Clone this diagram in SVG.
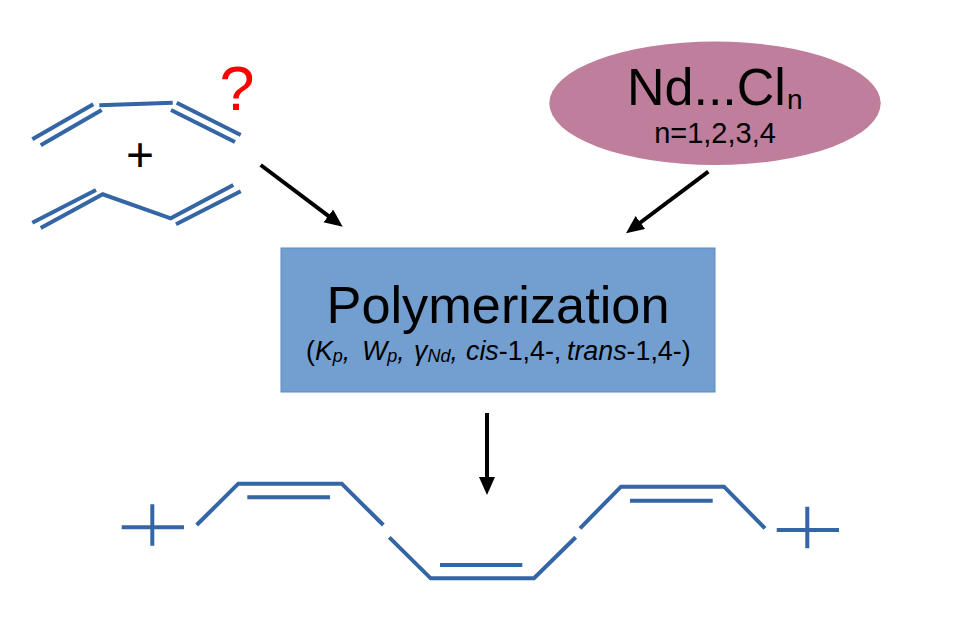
<svg xmlns="http://www.w3.org/2000/svg" width="954" height="623" viewBox="0 0 954 623">
<style>
text{font-family:"Liberation Sans",Arial,sans-serif;fill:#000}
.b{fill:none;stroke:#3465A4;stroke-width:4}
.a{fill:none;stroke:#000;stroke-width:4;marker-end:url(#ah)}
.i{font-style:italic}
</style>
<defs><marker id="ah" markerUnits="userSpaceOnUse" markerWidth="20" markerHeight="18" refX="10" refY="8" orient="auto"><path d="M0 0L18 8L0 16Z" fill="#000"/></marker></defs>
<rect width="954" height="623" fill="#fff"/>
<g id="butadiene-cis">
<path class="b" d="M32.3 139.3L93.3 104.3M40.7 145.3L101.7 110M99.3 105.3L172.7 102.7M176.7 102.7L240.7 135M171 110L235 142"/>
</g>
<g id="plus"><text x="140" y="171" font-size="48" text-anchor="middle">+</text></g>
<g id="question"><text x="237" y="110" font-size="63" text-anchor="middle" style="fill:#FF0000">?</text></g>
<g id="butadiene-trans">
<path class="b" d="M32.3 222.7L96 190M40.7 228L102.7 194.3L170.7 218.3L233.3 185M176 224.3L240.7 191.3"/>
</g>
<g id="catalyst">
<ellipse cx="715" cy="103.3" rx="165.7" ry="61.7" fill="#BE7E9C"/>
<text x="627" y="105" font-size="52">Nd...Cl<tspan x="787" dy="4" font-size="28">n</tspan></text>
<text x="715" y="143" font-size="29" text-anchor="middle">n=1,2,3,4</text>
</g>
<g id="polymerization">
<rect x="281" y="248" width="434" height="144" fill="#729FCF" stroke="#5B8AC4"/>
<text x="498" y="323" font-size="52.3" text-anchor="middle">Polymerization</text>
<text x="306" y="360" font-size="26.8">(<tspan class="i">K</tspan><tspan class="i" font-size="18" dy="2">p</tspan><tspan class="i" dy="-2">, </tspan><tspan class="i" x="362">W</tspan><tspan class="i" font-size="18" dy="2">p</tspan><tspan class="i" dy="-2">, </tspan><tspan class="i" x="414">γ</tspan><tspan class="i" font-size="18" dy="2">Nd</tspan><tspan class="i" dy="-2">, </tspan><tspan class="i" x="466">cis</tspan>-1,4-, <tspan class="i" x="567">trans</tspan>-1,4-)</text>
</g>
<g id="polymer">
<path class="b" d="M121.7 527.3H184M152.3 504.3V545.7M196.7 525L238.3 483.7H341.7L383.3 525M247.3 497.3H330M389.3 537.3L430.7 578.3H534L575.7 537.3M440 565H522.3M580 528.3L621 486.7H724L765 528.3M630 500.7H712.700M776.7 530H839M807.3 506.7V548.3"/>
</g>
<g id="connectors">
<path class="a" d="M260.7 165L336.3 221.9"/>
<path class="a" d="M708.3 171.7L632.4 228.500"/>
<path class="a" d="M487 413V487"/>
</g>
</svg>
